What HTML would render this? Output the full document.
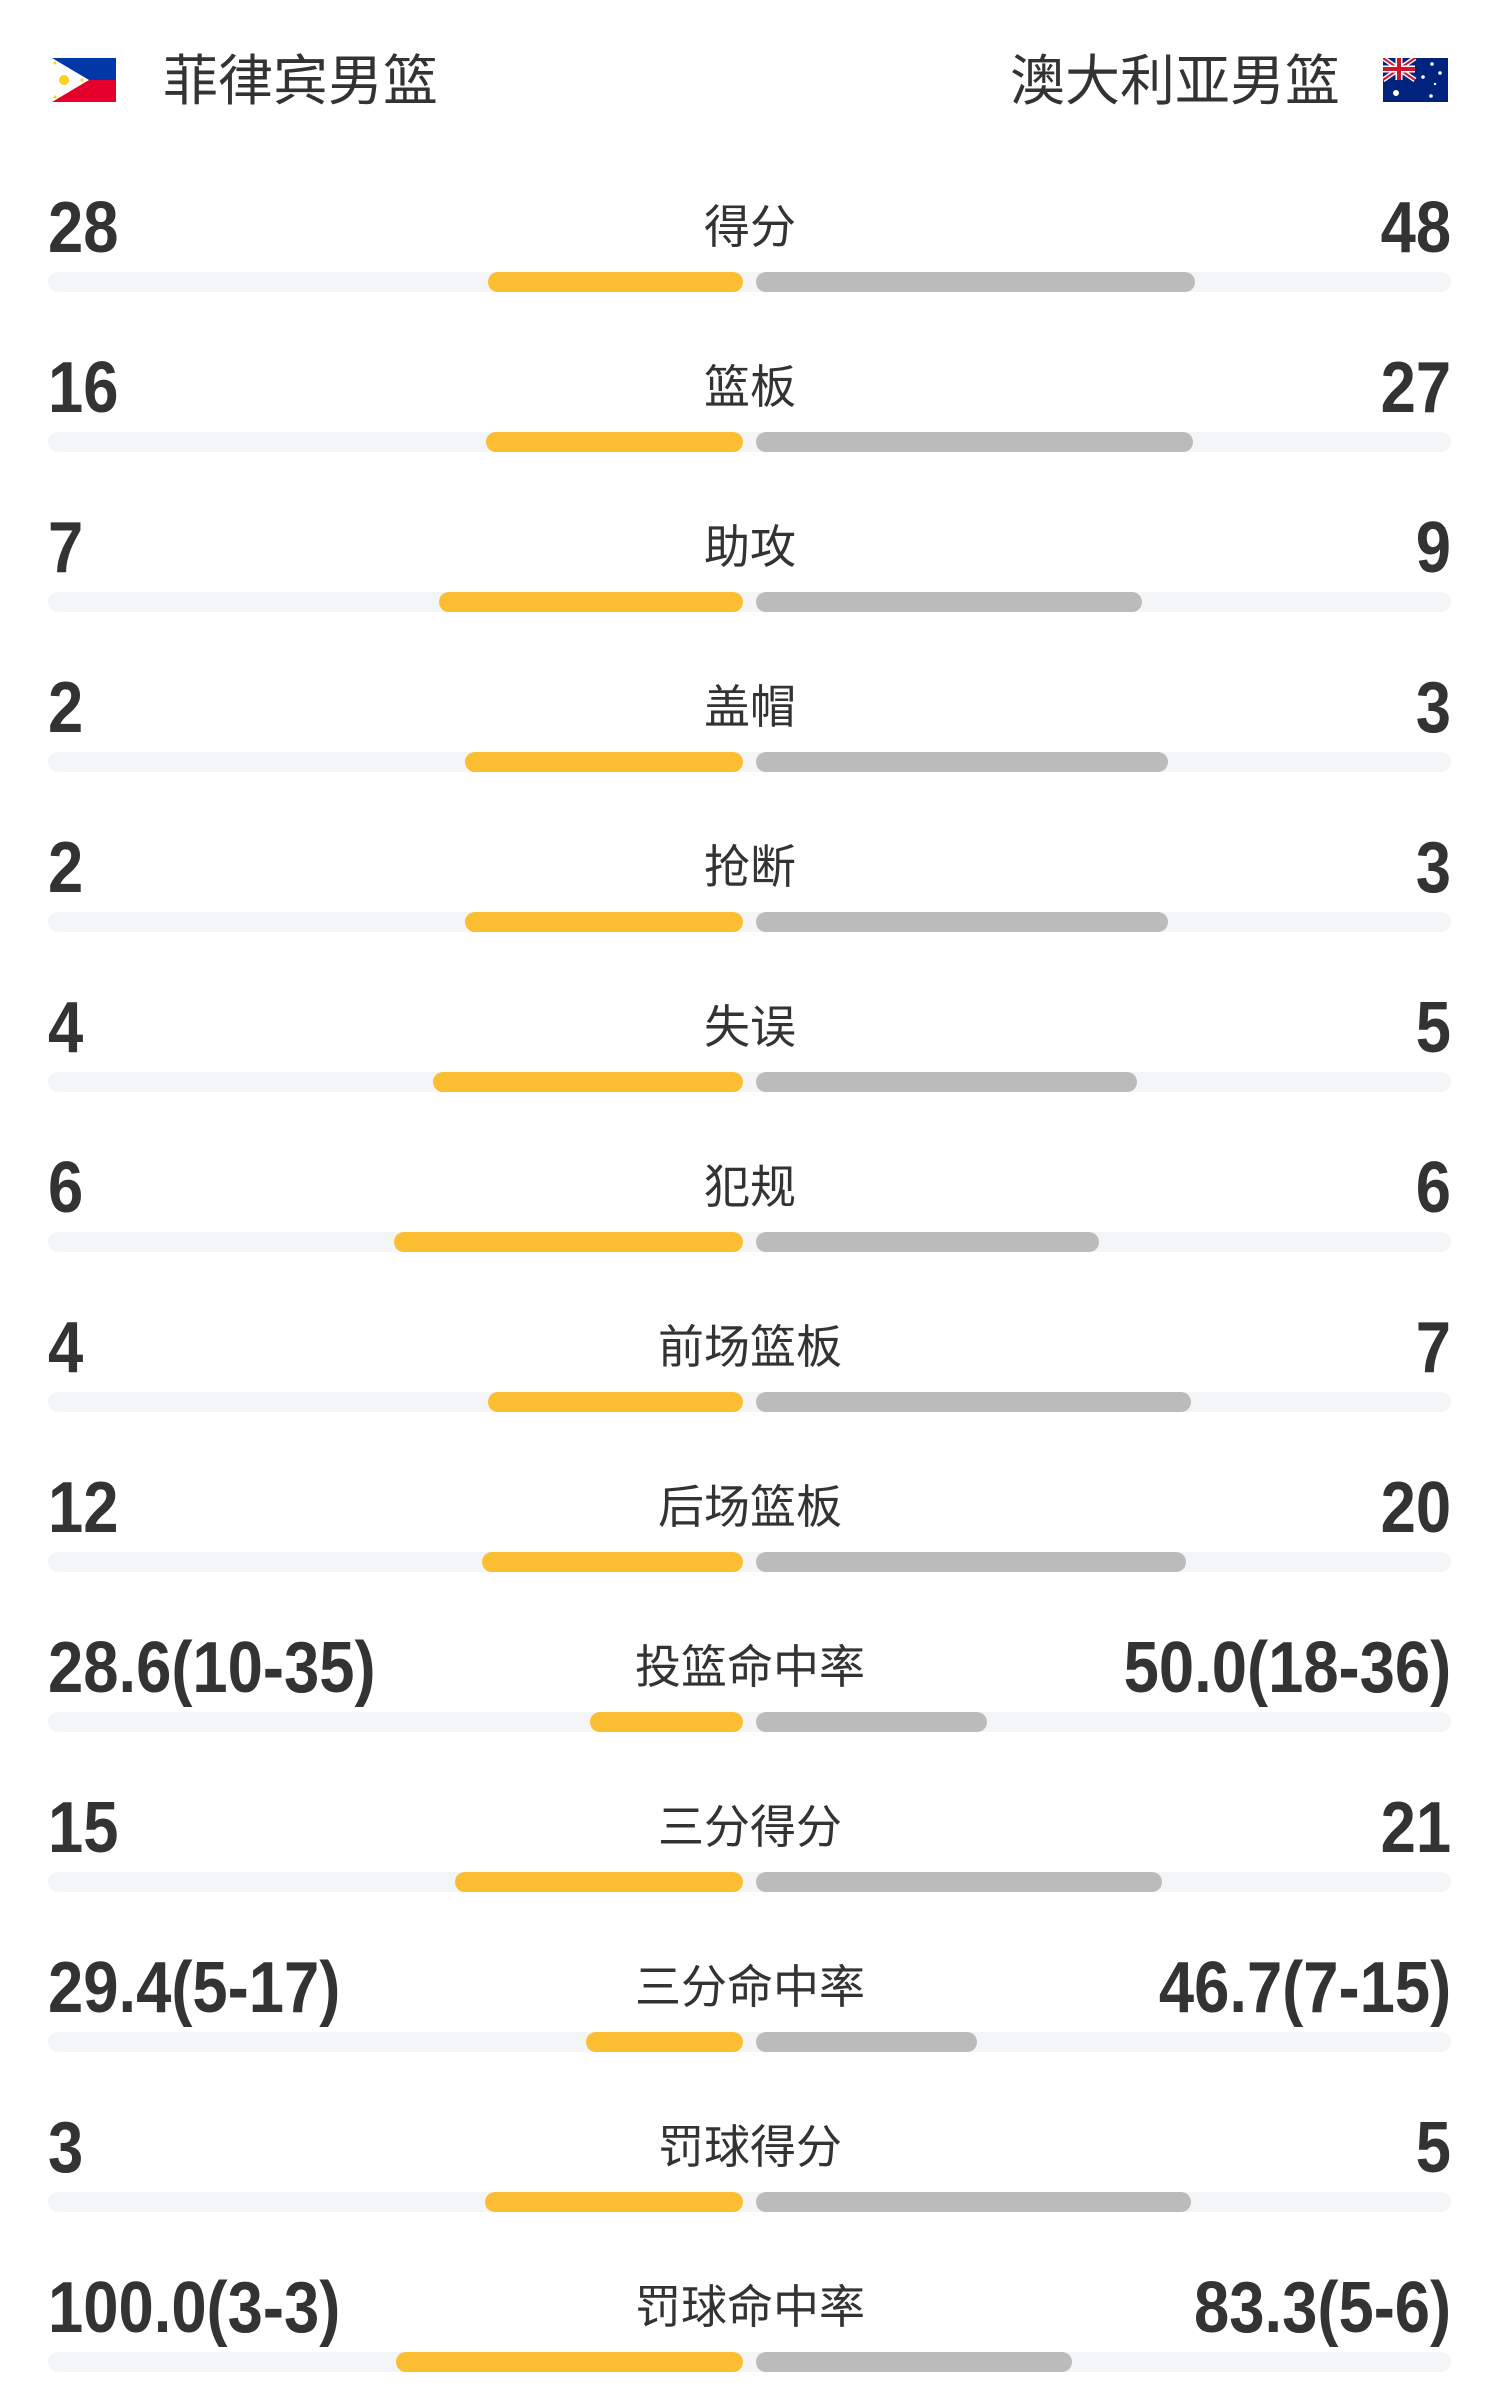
<!DOCTYPE html>
<html><head><meta charset="utf-8"><style>
body{margin:0;width:1500px;height:2400px;background:#fff;position:relative;overflow:hidden;font-family:"Liberation Sans","Noto Sans CJK SC",sans-serif;color:#333}
.t{position:absolute;white-space:nowrap}
.team{font-size:55px;top:46px;line-height:70px}
.num{font-size:72px;font-weight:bold;line-height:70px;letter-spacing:0}
.nl{transform:scaleX(0.88);transform-origin:left center}
.nr{transform:scaleX(0.88);transform-origin:right center}
.lab{font-size:46px;line-height:70px;width:400px;text-align:center;left:550px}
.tr{position:absolute;left:48px;width:1403px;height:20px;border-radius:10px;background:#f4f5f7}
.y{position:absolute;height:20px;border-radius:10px;background:#fbbd32}
.g{position:absolute;height:20px;border-radius:10px;background:#bbbbbb}
</style></head><body>
<svg style="position:absolute;left:52px;top:58px" width="64" height="44" viewBox="0 0 64 44">
<rect width="64" height="22" fill="#0038a8"/><rect y="22" width="64" height="22" fill="#e4002b"/>
<polygon points="0,0 37,22 0,44" fill="#fff"/><circle cx="12" cy="22" r="5" fill="#fcd116"/>
<circle cx="3" cy="5" r="1.5" fill="#fcd116"/><circle cx="3" cy="39" r="1.5" fill="#fcd116"/><circle cx="30" cy="22" r="1.5" fill="#fcd116"/></svg>
<div class="t team" style="left:163px">菲律宾男篮</div>
<div class="t team" style="right:160px">澳大利亚男篮</div>
<svg style="position:absolute;left:1383px;top:58px" width="65" height="44" viewBox="0 0 65 44">
<rect width="65" height="44" fill="#00247d"/>
<path d="M0,0 L32,22 M32,0 L0,22" stroke="#fff" stroke-width="5"/>
<path d="M0,0 L32,22 M32,0 L0,22" stroke="#cf142b" stroke-width="2"/>
<path d="M16,0 V22 M0,11 H32" stroke="#fff" stroke-width="7"/>
<path d="M16,0 V22 M0,11 H32" stroke="#cf142b" stroke-width="4"/>
<circle cx="13" cy="35" r="3" fill="#fff"/><circle cx="49" cy="6" r="1.8" fill="#fff"/><circle cx="40" cy="19" r="1.8" fill="#fff"/><circle cx="57" cy="15" r="1.8" fill="#fff"/><circle cx="52" cy="26" r="1.2" fill="#fff"/><circle cx="48" cy="38" r="1.8" fill="#fff"/></svg>
<div id="rows"></div>
<script>
var d=[["28","得分","48",490,1201],["16","篮板","27",488,1199],["7","助攻","9",441,1148],["2","盖帽","3",467,1174],["2","抢断","3",467,1174],["4","失误","5",435,1142],["6","犯规","6",396,1104],["4","前场篮板","7",490,1197],["12","后场篮板","20",484,1192],["28.6(10-35)","投篮命中率","50.0(18-36)",593,992],["15","三分得分","21",457,1168],["29.4(5-17)","三分命中率","46.7(7-15)",589,982],["3","罚球得分","5",487,1197],["100.0(3-3)","罚球命中率","83.3(5-6)",398,1077]];
var f=0.9952,h="";
d.forEach(function(r,i){var ty=272+160*i,tt=ty-79;
var a=Math.round(r[3]*f),b=Math.round(r[4]*f);
h+='<div class="t num nl" style="left:48px;top:'+tt+'px">'+r[0]+'</div>';
h+='<div class="t lab" style="top:'+(ty-80)+'px">'+r[1]+'</div>';
h+='<div class="t num nr" style="right:49px;top:'+tt+'px">'+r[2]+'</div>';
h+='<div class="tr" style="top:'+ty+'px"></div>';
h+='<div class="y" style="top:'+ty+'px;left:'+a+'px;width:'+(743-a)+'px"></div>';
h+='<div class="g" style="top:'+ty+'px;left:756px;width:'+(b-756)+'px"></div>';});
document.getElementById("rows").innerHTML=h;
</script>
</body></html>
